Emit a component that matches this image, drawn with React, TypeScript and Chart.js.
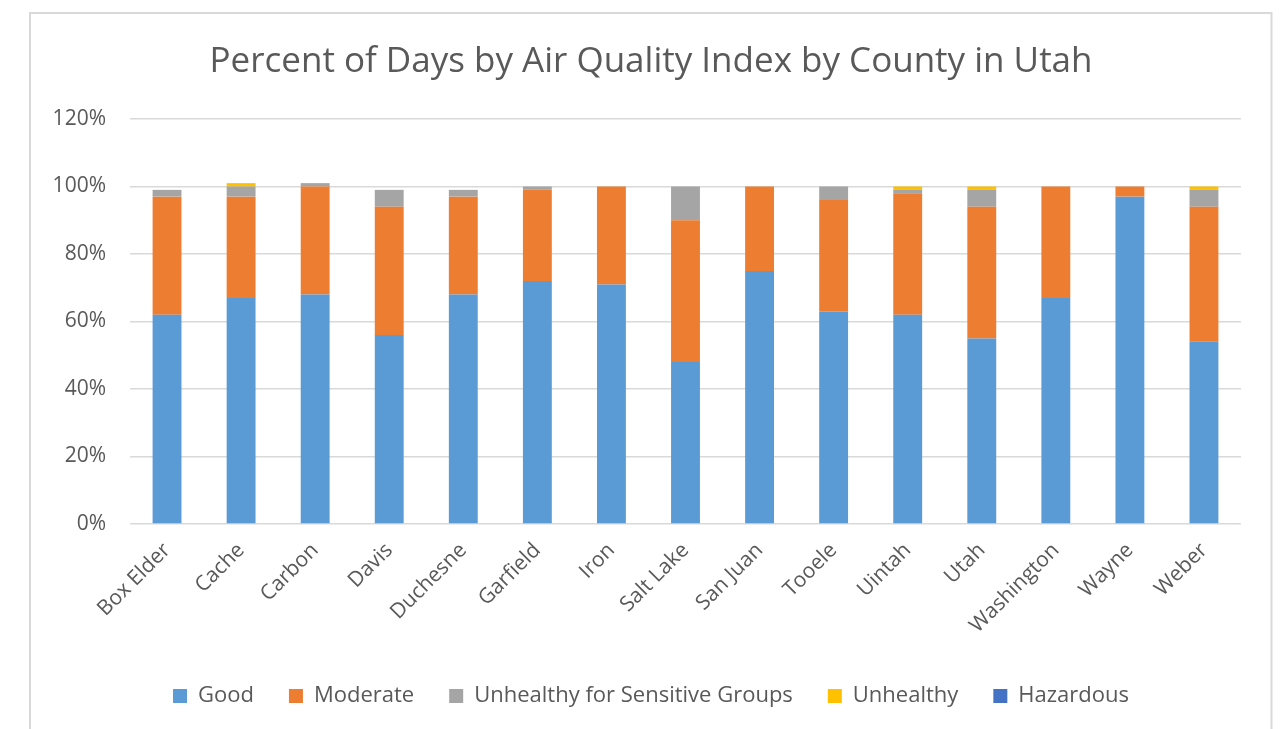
import React, { useEffect, useRef } from "react";
import { Chart, registerables } from "chart.js";

Chart.register(...registerables);

const counties = [
  "Box Elder", "Cache", "Carbon", "Davis", "Duchesne", "Garfield", "Iron",
  "Salt Lake", "San Juan", "Tooele", "Uintah", "Utah", "Washington", "Wayne", "Weber",
];
const good = [62, 67, 68, 56, 68, 72, 71, 48, 75, 63, 62, 55, 67, 97, 54];
const moderate = [35, 30, 32, 38, 29, 27, 29, 42, 25, 33, 36, 39, 33, 3, 40];
const sensitive = [2, 3, 1, 5, 2, 1, 0, 10, 0, 4, 1, 5, 0, 0, 5];
const unhealthy = [0, 1, 0, 0, 0, 0, 0, 0, 0, 0, 1, 1, 0, 0, 1];
const hazardous = [0, 0, 0, 0, 0, 0, 0, 0, 0, 0, 0, 0, 0, 0, 0];
const yTicks = [0, 20, 40, 60, 80, 100, 120];

const FONT = "'Open Sans', 'DejaVu Sans', sans-serif";
const TEXT = "#595959";

const borderPlugin = {
  id: "outerBorder",
  beforeDraw(chart: any) {
    const ctx = chart.ctx;
    ctx.save();
    ctx.fillStyle = "#ffffff";
    ctx.fillRect(0, 0, chart.width, chart.height);
    ctx.strokeStyle = "#d9d9d9";
    ctx.lineWidth = 2;
    ctx.strokeRect(30, 13, 1241.5, 800);
    ctx.restore();
  },
};

export default function App() {
  const ref = useRef<HTMLCanvasElement | null>(null);
  useEffect(() => {
    if (!ref.current) return;
    const mk = (label: string, data: number[], color: string) => ({
      label,
      data,
      backgroundColor: color,
      borderWidth: 0,
      barPercentage: 0.39,
      categoryPercentage: 1,
    });
    const chart = new Chart(ref.current, {
      type: "bar",
      data: {
        labels: counties,
        datasets: [
          mk("Good", good, "#5B9BD5"),
          mk("Moderate", moderate, "#ED7D31"),
          mk("Unhealthy for Sensitive Groups", sensitive, "#A5A5A5"),
          mk("Unhealthy", unhealthy, "#FFC000"),
          mk("Hazardous", hazardous, "#4472C4"),
        ],
      },
      options: {
        animation: false,
        responsive: false,
        devicePixelRatio: 1,
        layout: { padding: { left: 30, right: 9, top: 13, bottom: 12 } },
        plugins: {
          title: {
            display: true,
            text: "Percent of Days by Air Quality Index by County in Utah",
            color: TEXT,
            font: { family: FONT, size: 35, weight: "normal" },
            padding: { top: 28, bottom: 36 },
          },
          legend: {
            position: "bottom",
            labels: {
              color: TEXT,
              font: { family: FONT, size: 22 },
              boxWidth: 14,
              boxHeight: 14,
              padding: 35,
            },
          },
          tooltip: { enabled: false },
        },
        scales: {
          x: {
            stacked: true,
            grid: { display: false },
            border: { display: false },
            ticks: {
              color: TEXT,
              font: { family: FONT, size: 21 },
              minRotation: 45,
              maxRotation: 45,
              padding: 6,
            },
            afterFit(scale: any) {
              scale.height = 126;
            },
          },
          y: {
            stacked: true,
            min: 0,
            max: 120,
            afterBuildTicks(scale: any) {
              scale.ticks = yTicks.map((v) => ({ value: v }));
            },
            ticks: {
              color: TEXT,
              font: { family: FONT, size: 21 },
              padding: 24,
              callback: (v: any) => v + "%",
            },
            grid: { color: "#d9d9d9", lineWidth: 1.5, drawTicks: false },
            border: { display: false },
            afterFit(scale: any) {
              scale.width = 100;
            },
          },
          y2: {
            position: "right",
            display: true,
            grid: { display: false },
            border: { display: false },
            ticks: { display: false },
            afterFit(scale: any) {
              scale.width = 31;
            },
          },
        },
      },
      plugins: [borderPlugin],
    } as any);
    return () => chart.destroy();
  }, []);
  return (
    <div style={{ position: "fixed", left: 0, top: 0, width: 1281, height: 729 }}>
      <canvas ref={ref} width={1281} height={729} style={{ width: 1281, height: 729 }} />
    </div>
  );
}
